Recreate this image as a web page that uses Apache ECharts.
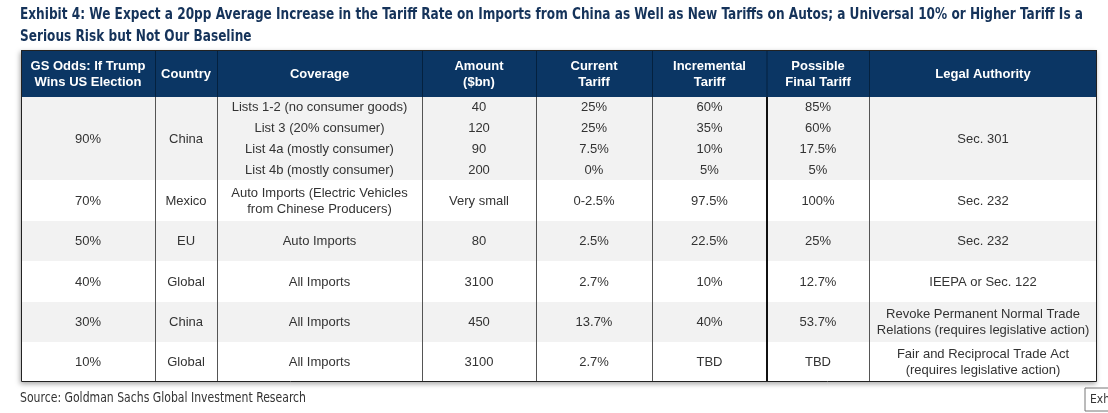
<!DOCTYPE html>
<html>
<head>
<meta charset="utf-8">
<script src="https://cdn.jsdelivr.net/npm/echarts@6/dist/echarts.min.js"></script>
<style>
html,body{margin:0;padding:0;background:#fff;}
#chart{width:1108px;height:413px;}
</style>
</head>
<body>
<div id="chart"></div>
<script>
// ---------- data ----------
const titleLines = [
  'Exhibit 4: We Expect a 20pp Average Increase in the Tariff Rate on Imports from China as Well as New Tariffs on Autos; a Universal 10% or Higher Tariff Is a',
  'Serious Risk but Not Our Baseline'
];
const sourceText = 'Source: Goldman Sachs Global Investment Research';
const headers = ['GS Odds: If Trump\nWins US Election', 'Country', 'Coverage', 'Amount\n($bn)', 'Current\nTariff', 'Incremental\nTariff', 'Possible\nFinal Tariff', 'Legal Authority'];
const odds = ['90%', '70%', '50%', '40%', '30%', '10%'];
const countries = ['China', 'Mexico', 'EU', 'Global', 'China', 'Global'];
const coverage = [
  ['Lists 1-2 (no consumer goods)', 'List 3 (20% consumer)', 'List 4a (mostly consumer)', 'List 4b (mostly consumer)'],
  ['Auto Imports (Electric Vehicles\nfrom Chinese Producers)'],
  ['Auto Imports'],
  ['All Imports'],
  ['All Imports'],
  ['All Imports']
];
const amounts = [['40', '120', '90', '200'], ['Very small'], ['80'], ['3100'], ['450'], ['3100']];
const currentTariff = [['25%', '25%', '7.5%', '0%'], ['0-2.5%'], ['2.5%'], ['2.7%'], ['13.7%'], ['2.7%']];
const incrementalTariff = [['60%', '35%', '10%', '5%'], ['97.5%'], ['22.5%'], ['10%'], ['40%'], ['TBD']];
const finalTariff = [['85%', '60%', '17.5%', '5%'], ['100%'], ['25%'], ['12.7%'], ['53.7%'], ['TBD']];
const legalAuthority = ['Sec. 301', 'Sec. 232', 'Sec. 232', 'IEEPA or Sec. 122',
  'Revoke Permanent Normal Trade\nRelations (requires legislative action)',
  'Fair and Reciprocal Trade Act\n(requires legislative action)'];

// ---------- layout (not data) ----------
const colEdges = [0, 134, 196, 401, 515, 631, 746, 848, 1076];
const headerH = 47;
const rowH = [83, 41, 40, 41, 40, 40];
const bandFill = ['#f2f2f2', '#ffffff', '#f2f2f2', '#ffffff', '#f2f2f2', '#ffffff'];
const totalW = colEdges[colEdges.length - 1];
const rowTops = [];
{ let y = headerH; rowH.forEach(h => { rowTops.push(y); y += h; }); }
const totalH = headerH + rowH.reduce((a, b) => a + b, 0);

const columns = [odds, countries, coverage, amounts, currentTariff, incrementalTariff, finalTariff, legalAuthority];

const bands = [{ y0: 0, y1: headerH, fill: '#0b3664' }];
rowH.forEach((h, i) => bands.push({ y0: rowTops[i], y1: rowTops[i] + h, fill: bandFill[i] }));

const cells = [];
headers.forEach((t, c) => cells.push({ c, y0: 0, y1: headerH, text: t, header: true }));
columns.forEach((col, c) => {
  col.forEach((v, r) => {
    const y0 = rowTops[r], y1 = rowTops[r] + rowH[r];
    if (Array.isArray(v)) {
      const n = v.length, sh = (y1 - y0) / n;
      v.forEach((t, k) => cells.push({ c, y0: y0 + k * sh, y1: y0 + (k + 1) * sh, text: t }));
    } else {
      cells.push({ c, y0, y1, text: v });
    }
  });
});

const seps = [];
for (let i = 1; i < colEdges.length - 1; i++) seps.push({ x: colEdges[i], strong: i === 6 });

const bodyFont = '13px "Liberation Sans", Arial, sans-serif';
const headFont = 'bold 13px "Liberation Sans", Arial, sans-serif';
const titleFont = 'bold 15px "DejaVu Sans Condensed", "DejaVu Sans", sans-serif';
const srcFont = '14px "DejaVu Sans Condensed", "DejaVu Sans", sans-serif';

// horizontal compression so condensed text matches the reference width
const mctx = document.createElement('canvas').getContext('2d');
function fitScale(text, font, target) { mctx.font = font; return target / mctx.measureText(text).width; }
const titleScale = fitScale(titleLines[0], titleFont, 1063);
const srcScale = fitScale(sourceText, srcFont, 286);

const chart = echarts.init(document.getElementById('chart'), null, { renderer: 'canvas' });
chart.setOption({
  animation: false,
  backgroundColor: '#ffffff',
  grid: { left: 21, right: 1108 - 21 - totalW, top: 50, bottom: 413 - 50 - totalH },
  xAxis: { type: 'value', min: 0, max: totalW, show: false },
  yAxis: { type: 'value', min: 0, max: totalH, inverse: true, show: false },
  series: [
    {
      type: 'custom', z: 1, data: [[0]],
      renderItem: (p, api) => {
        const a = api.coord([0, 0]), b = api.coord([totalW, totalH]);
        return { type: 'rect', shape: { x: a[0], y: a[1], width: b[0] - a[0], height: b[1] - a[1] },
          style: { fill: '#fff', shadowBlur: 5, shadowColor: 'rgba(0,0,0,0.35)', shadowOffsetX: -1, shadowOffsetY: 2 } };
      }
    },
    {
      type: 'custom', z: 2, data: bands.map((b, i) => [i]),
      renderItem: (p, api) => {
        const b = bands[p.dataIndex];
        const a = api.coord([0, b.y0]), e = api.coord([totalW, b.y1]);
        return { type: 'rect', shape: { x: a[0], y: a[1], width: e[0] - a[0], height: e[1] - a[1] }, style: { fill: b.fill } };
      }
    },
    {
      type: 'custom', z: 3, data: seps.map((s, i) => [i]),
      renderItem: (p, api) => {
        const s = seps[p.dataIndex];
        const h0 = api.coord([s.x, 0]), h1 = api.coord([s.x, headerH]), b1 = api.coord([s.x, totalH]);
        const x = Math.round(h0[0]) + (s.strong ? 0 : 0.5);
        return { type: 'group', children: [
          { type: 'line', shape: { x1: x, y1: h0[1], x2: x, y2: h1[1] }, style: { stroke: '#04213f', lineWidth: 1 } },
          { type: 'line', shape: { x1: x, y1: h1[1], x2: x, y2: b1[1] }, style: { stroke: s.strong ? '#111' : '#555', lineWidth: s.strong ? 2 : 1 } }
        ] };
      }
    },
    {
      type: 'custom', z: 4, data: [[0]],
      renderItem: (p, api) => {
        const a = api.coord([0, 0]), b = api.coord([totalW, totalH]);
        return { type: 'rect', shape: { x: Math.round(a[0]) + 0.5, y: Math.round(a[1]) + 0.5, width: Math.round(b[0] - a[0]) - 1, height: Math.round(b[1] - a[1]) - 1 },
          style: { fill: null, stroke: '#222', lineWidth: 1 } };
      }
    },
    {
      type: 'custom', z: 5, data: cells.map((c, i) => [i]),
      renderItem: (p, api) => {
        const c = cells[p.dataIndex];
        const a = api.coord([(colEdges[c.c] + colEdges[c.c + 1]) / 2, (c.y0 + c.y1) / 2]);
        return { type: 'text', style: { text: c.text, x: a[0], y: a[1] + 0.5, align: 'center', verticalAlign: 'middle',
          font: c.header ? headFont : bodyFont, fill: c.header ? '#ffffff' : '#333333', lineHeight: 16 } };
      }
    }
  ],
  graphic: [
    { type: 'text', x: 20, y: 15, scaleX: titleScale, style: { text: titleLines[0], font: titleFont, fill: '#15335a', verticalAlign: 'middle' } },
    { type: 'text', x: 20, y: 37, scaleX: titleScale, style: { text: titleLines[1], font: titleFont, fill: '#15335a', verticalAlign: 'middle' } },
    { type: 'text', x: 20, y: 398, scaleX: srcScale, style: { text: sourceText, font: srcFont, fill: '#333333', verticalAlign: 'middle' } },
    { type: 'group', x: 1085, y: 388, children: [
      { type: 'rect', shape: { x: 0, y: 0, width: 40, height: 23 }, style: { fill: '#fff', stroke: '#777', lineWidth: 1 } },
      { type: 'text', style: { text: 'Exhibit', x: 5, y: 12, verticalAlign: 'middle', font: '12px "DejaVu Sans Condensed", sans-serif', fill: '#333' } }
    ] }
  ]
});
</script>
</body>
</html>
